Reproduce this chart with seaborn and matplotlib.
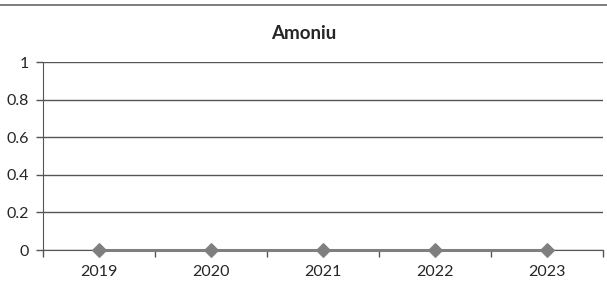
import numpy as np
import pandas as pd
import seaborn as sns
import matplotlib.pyplot as plt
from matplotlib.lines import Line2D

years = ["2019", "2020", "2021", "2022", "2023"]
values = [0, 0, 0, 0, 0]
y_ticks = [0, 0.2, 0.4, 0.6, 0.8, 1]
y_labels = ["0", "0.2", "0.4", "0.6", "0.8", "1"]

df = pd.DataFrame({"year": years, "value": values})

sns.set_style("white")
plt.rcParams["font.family"] = ["Lato", "DejaVu Sans"]

fig = plt.figure(figsize=(6.07, 2.88), dpi=100)
ax = fig.add_axes([0.0708, 0.1319, 0.9226, 0.6528])

sns.lineplot(data=df, x="year", y="value", ax=ax, color="#7f7f7f",
             marker="D", markersize=7, markeredgecolor="#7f7f7f", linewidth=2.2)
for ln in ax.lines:
    ln.set_clip_on(False)
    ln.set_zorder(5)

ax.set_xlim(-0.5, len(years) - 0.5)
ax.set_ylim(0, 1)
ax.set_yticks(y_ticks)
ax.set_yticklabels(y_labels, fontsize=11.5)
ax.set_xticks(range(len(years)))
ax.set_xticklabels(years, fontsize=11.5)
ax.set_xticks(np.arange(-0.5, len(years)), minor=True)
ax.tick_params(axis="x", which="major", bottom=True, length=0, pad=11)
ax.tick_params(axis="x", which="minor", bottom=True, length=5, color="#555555", width=1, direction="out")
ax.tick_params(axis="y", left=True, length=5, color="#555555", width=1, direction="out", pad=5)
ax.set_xlabel("")
ax.set_ylabel("")

ax.grid(axis="y", color="#555555", linewidth=1)
ax.set_axisbelow(True)
for side in ["top", "right"]:
    ax.spines[side].set_visible(False)
ax.spines["left"].set_color("#555555")
ax.spines["bottom"].set_color("#555555")

fig.text(0.5, 0.885, "Amoniu", ha="center", va="center", fontsize=13.5, fontweight="bold")
fig.add_artist(Line2D([0, 1], [0.982, 0.982], color="#666666", linewidth=1.2))

fig.savefig("out.png", dpi=100)
